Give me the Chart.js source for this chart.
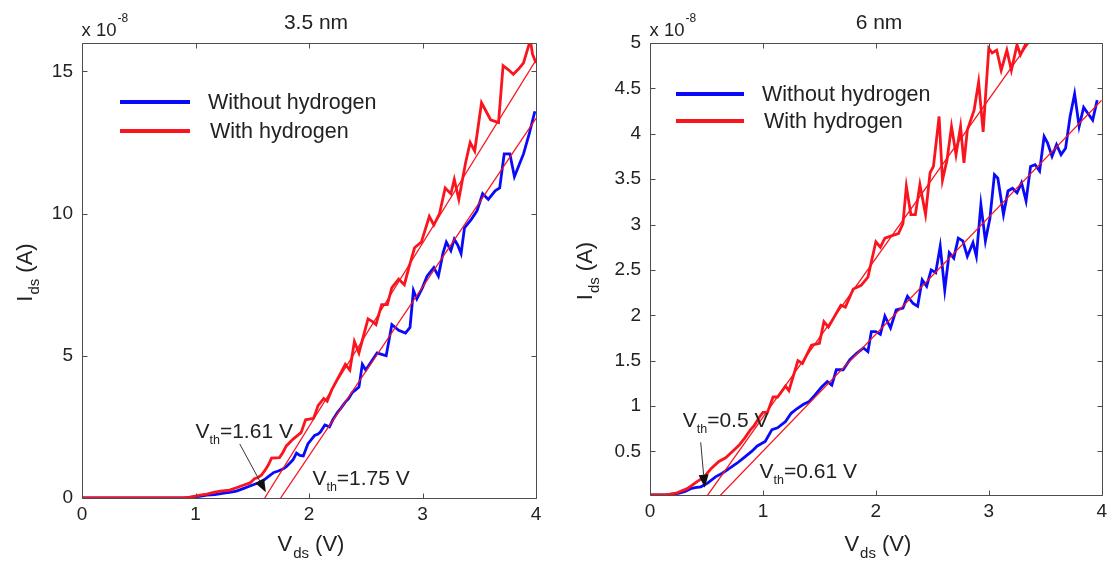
<!DOCTYPE html>
<html><head><meta charset="utf-8">
<script src="https://cdn.jsdelivr.net/npm/chart.js@4.4.0/dist/chart.umd.min.js"></script>
<style>
html,body{margin:0;padding:0;background:#fff;}
#wrap{position:relative;width:1112px;height:561px;overflow:hidden;background:#fff;}
canvas{position:absolute;top:0;}
</style></head><body>
<div id="wrap">
<canvas id="c1" width="560" height="561" style="left:0;width:560px;height:561px"></canvas>
<canvas id="c2" width="552" height="561" style="left:560px;width:552px;height:561px"></canvas>
</div>
<script>
// ---------- DATA (current in units of 1e-8 A, voltage in V) ----------
const xTicks = [0, 1, 2, 3, 4];
const leftYTicks = [0, 5, 10, 15];
const rightYTicks = [0.5, 1, 1.5, 2, 2.5, 3, 3.5, 4, 4.5, 5];
const seriesNames = ['Without hydrogen', 'With hydrogen'];
const panelTitles = ['3.5 nm', '6 nm'];

// 3.5 nm panel
const leftWithoutX = [0,0.5,0.9,0.95,1.0,1.05,1.1,1.17,1.25,1.3,1.36,1.42,1.48,1.55,1.6,1.65,1.69,1.73,1.77,1.8,1.83,1.86,1.89,1.92,1.95,1.99,2.02,2.05,2.08,2.1,2.14,2.18,2.21,2.25,2.28,2.32,2.35,2.38,2.41,2.44,2.47,2.5,2.55,2.6,2.64,2.68,2.73,2.79,2.85,2.89,2.92,2.95,3.0,3.04,3.1,3.14,3.18,3.21,3.25,3.28,3.31,3.34,3.37,3.43,3.48,3.53,3.58,3.64,3.68,3.72,3.77,3.81,3.85,3.89,3.94,3.99];
const leftWithoutY = [0,0,0,0.02,0.04,0.07,0.1,0.12,0.17,0.2,0.24,0.33,0.42,0.53,0.62,0.78,0.9,0.95,1.02,1.1,1.22,1.35,1.58,1.5,1.48,1.9,2.05,2.2,2.25,2.32,2.57,2.5,2.75,3.0,3.15,3.37,3.5,3.7,3.8,3.9,4.7,4.5,4.8,5.1,5.05,5.0,6.1,5.9,5.8,6.0,7.3,7.0,7.4,7.8,8.1,7.8,8.6,9.0,8.7,9.1,8.9,8.6,9.5,9.8,10.1,10.7,10.5,10.8,10.9,12.1,12.1,11.3,11.7,12.1,12.8,13.6];
const leftWithX = [0,0.5,0.9,0.95,1.0,1.04,1.1,1.16,1.22,1.3,1.36,1.42,1.48,1.52,1.55,1.58,1.61,1.64,1.67,1.74,1.77,1.8,1.86,1.93,1.97,2.04,2.08,2.13,2.16,2.2,2.24,2.28,2.32,2.36,2.4,2.44,2.48,2.52,2.56,2.59,2.64,2.69,2.73,2.79,2.84,2.88,2.93,2.99,3.06,3.1,3.15,3.2,3.25,3.28,3.32,3.38,3.42,3.46,3.52,3.56,3.6,3.67,3.71,3.76,3.8,3.85,3.89,3.95,3.97,4.0];
const leftWithY = [0,0,0,0.03,0.07,0.1,0.14,0.2,0.24,0.28,0.36,0.45,0.53,0.68,0.72,0.8,0.96,1.15,1.4,1.42,1.6,1.83,2.07,2.3,2.75,2.8,3.25,3.5,3.4,3.8,4.1,4.4,4.7,4.5,5.5,5.1,5.7,6.3,6.2,6.1,6.8,6.8,7.4,7.7,7.5,8.1,8.8,9.0,9.9,9.6,10.0,10.9,10.7,11.2,10.5,11.8,12.5,12.2,13.9,13.6,13.3,13.2,15.2,15.05,14.9,15.1,15.3,16.1,15.6,15.3];
const leftFitWithoutX = [1.75, 4];
const leftFitWithoutY = [0, 13.35];
const leftFitWithX = [1.61, 4];
const leftFitWithY = [0, 15.4];

// 6 nm panel
const rightWithoutX = [0,0.1,0.14,0.2,0.26,0.31,0.36,0.4,0.45,0.51,0.58,0.64,0.7,0.77,0.83,0.9,0.95,1.02,1.08,1.13,1.2,1.25,1.3,1.36,1.41,1.46,1.52,1.57,1.61,1.65,1.71,1.77,1.83,1.89,1.93,1.96,2.0,2.04,2.08,2.13,2.18,2.24,2.28,2.33,2.37,2.41,2.45,2.49,2.53,2.57,2.61,2.65,2.69,2.73,2.77,2.81,2.86,2.89,2.93,2.97,3.01,3.05,3.08,3.13,3.17,3.21,3.25,3.29,3.33,3.37,3.41,3.45,3.49,3.52,3.56,3.6,3.64,3.68,3.72,3.76,3.8,3.84,3.88,3.92,3.96];
const rightWithoutY = [0.02,0.02,0.02,0.03,0.04,0.06,0.09,0.1,0.11,0.15,0.22,0.26,0.31,0.37,0.43,0.5,0.56,0.61,0.74,0.76,0.83,0.92,0.97,1.02,1.05,1.12,1.21,1.27,1.23,1.4,1.4,1.51,1.58,1.64,1.6,1.82,1.82,1.79,1.99,1.86,2.06,2.08,2.21,2.13,2.1,2.39,2.32,2.5,2.47,2.76,2.28,2.69,2.63,2.85,2.82,2.65,2.8,2.65,3.22,2.82,3.07,3.55,3.51,3.11,3.37,3.4,3.35,3.46,3.26,3.64,3.66,3.59,3.97,3.9,3.75,3.88,3.77,3.84,4.19,4.44,4.08,4.29,4.22,4.15,4.37];
const rightWithX = [0,0.14,0.23,0.33,0.42,0.48,0.54,0.61,0.67,0.73,0.79,0.84,0.89,0.92,0.97,1.0,1.04,1.09,1.13,1.2,1.23,1.31,1.35,1.43,1.5,1.54,1.58,1.69,1.73,1.8,1.87,1.93,2.0,2.04,2.08,2.15,2.2,2.24,2.27,2.31,2.35,2.39,2.44,2.48,2.51,2.56,2.59,2.63,2.67,2.71,2.75,2.78,2.81,2.87,2.91,2.95,3.0,3.03,3.07,3.11,3.16,3.2,3.25,3.28,3.34,3.4];
const rightWithY = [0.02,0.02,0.04,0.09,0.17,0.22,0.31,0.39,0.43,0.5,0.57,0.65,0.74,0.78,0.88,0.93,0.93,1.1,1.1,1.22,1.17,1.5,1.47,1.67,1.69,1.93,1.87,2.11,2.09,2.29,2.33,2.42,2.81,2.75,2.85,2.88,2.9,3.01,3.42,3.11,3.11,3.44,3.11,3.57,3.64,4.19,3.49,3.71,4.08,3.77,4.08,3.68,4.04,4.26,4.57,4.02,4.94,4.89,4.92,4.7,4.92,4.7,4.98,4.87,5.02,5.2];
const rightFitWithoutX = [0.61, 4];
const rightFitWithoutY = [0, 4.37];
const rightFitWithX = [0.5, 3.4];
const rightFitWithY = [0, 5.08];

const thresholdLabels = [['1.61 V', '1.75 V'], ['0.5 V', '0.61 V']];

// ---------- RENDERING ----------
const FAM = '"Liberation Sans", Arial, Helvetica, sans-serif';
const BLUE = 'rgb(10,10,250)';
const RED = 'rgb(250,20,30)';
const TXT = '#222';

function pts(xs, ys) { return xs.map((x, i) => ({ x: x, y: ys[i] })); }

function drawRuns(ctx, parts, x, y, align) {
  let w = 0;
  parts.forEach(p => { ctx.font = p[1] + 'px ' + FAM; w += ctx.measureText(p[0]).width + (p[3] || 0); });
  let cx = align === 'center' ? x - w / 2 : (align === 'right' ? x - w : x);
  parts.forEach(p => {
    ctx.font = p[1] + 'px ' + FAM;
    ctx.fillText(p[0], cx, y + (p[2] || 0));
    cx += ctx.measureText(p[0]).width + (p[3] || 0);
  });
  return w;
}

function overlay(o) {
  return {
    id: 'overlay',
    afterDraw(chart) {
      const ctx = chart.ctx, a = chart.chartArea, xs = chart.scales.x, ys = chart.scales.y;
      ctx.save();
      ctx.strokeStyle = '#4d4d4d';
      ctx.lineWidth = 1;
      const L = Math.round(a.left) + 0.5, R = Math.round(a.right) + 0.5, T = Math.round(a.top) + 0.5, B = Math.round(a.bottom) + 0.5;
      ctx.beginPath();
      ctx.rect(L, T, R - L, B - T);
      xs.ticks.forEach(t => {
        const px = Math.round(xs.getPixelForValue(t.value)) + 0.5;
        ctx.moveTo(px, B); ctx.lineTo(px, B - 5);
        ctx.moveTo(px, T); ctx.lineTo(px, T + 5);
      });
      ys.ticks.forEach(t => {
        const py = Math.round(ys.getPixelForValue(t.value)) + 0.5;
        ctx.moveTo(L, py); ctx.lineTo(L + 5, py);
        ctx.moveTo(R, py); ctx.lineTo(R - 5, py);
      });
      ctx.stroke();

      ctx.fillStyle = TXT;
      ctx.textBaseline = 'alphabetic';
      // title
      drawRuns(ctx, [[o.title, 21]], o.titleX, 29, 'center');
      // exponent
      const w1 = drawRuns(ctx, [['x 10', 18.5]], L - 1, 36, 'left');
      drawRuns(ctx, [['-8', 12]], L - 1 + w1 + 1, 22, 'left');
      // x axis title
      const cxm = (a.left + a.right) / 2;
      drawRuns(ctx, [['V', 22, 0, 1], ['ds', 15, 7, 6], ['(V)', 22, 0]], cxm + 2, 551, 'center');
      // y axis title
      ctx.save();
      ctx.translate(o.yTitleX, (a.top + a.bottom) / 2 + 2);
      ctx.rotate(-Math.PI / 2);
      drawRuns(ctx, [['I', 22, 0, 1], ['ds', 15, 7, 6], ['(A)', 22, 0]], 0, 0, 'center');
      ctx.restore();
      // legend
      const cols = [BLUE, RED];
      o.legend.forEach((lg, i) => {
        ctx.strokeStyle = cols[i];
        ctx.lineWidth = 4;
        ctx.beginPath();
        ctx.moveTo(lg.x0, lg.y); ctx.lineTo(lg.x1, lg.y);
        ctx.stroke();
        ctx.fillStyle = TXT;
        drawRuns(ctx, [[seriesNames[i], 21.5]], lg.tx, lg.y + 7, 'left');
      });
      // threshold annotations
      o.ann.forEach((an, i) => {
        const px = xs.getPixelForValue(an.x), py = ys.getPixelForValue(an.y);
        drawRuns(ctx, [['V', 21, 0, 0], ['th', 12.5, 6, 0], ['=' + o.vth[i], 21, 0]], px, py, 'left');
      });
      // arrow
      const ax0 = xs.getPixelForValue(o.arrow.x0), ay0 = ys.getPixelForValue(o.arrow.y0);
      const ax1 = xs.getPixelForValue(o.arrow.x1), ay1 = ys.getPixelForValue(o.arrow.y1);
      const ang = Math.atan2(ay1 - ay0, ax1 - ax0);
      const hl = 13, hw = 5;
      const bx = ax1 - hl * Math.cos(ang), by = ay1 - hl * Math.sin(ang);
      ctx.strokeStyle = '#333';
      ctx.lineWidth = 1;
      ctx.beginPath(); ctx.moveTo(ax0, ay0); ctx.lineTo(bx, by); ctx.stroke();
      ctx.fillStyle = '#111';
      ctx.beginPath();
      ctx.moveTo(ax1, ay1);
      ctx.lineTo(bx + hw * Math.sin(ang), by - hw * Math.cos(ang));
      ctx.lineTo(bx - hw * Math.sin(ang), by + hw * Math.cos(ang));
      ctx.closePath(); ctx.fill();
      ctx.restore();
    }
  };
}

function build(id, o) {
  const tickFont = { family: FAM, size: 19 };
  return new Chart(document.getElementById(id), {
    type: 'scatter',
    data: {
      datasets: [
        { label: 'fit with', data: pts(o.fitWithX, o.fitWithY), showLine: true, borderColor: RED, borderWidth: 1.3, pointRadius: 0, order: 0 },
        { label: 'fit without', data: pts(o.fitWithoutX, o.fitWithoutY), showLine: true, borderColor: RED, borderWidth: 1.3, pointRadius: 0, order: 0 },
        { label: seriesNames[1], data: pts(o.withX, o.withY), showLine: true, borderColor: RED, borderWidth: 2.8, pointRadius: 0, order: 1 },
        { label: seriesNames[0], data: pts(o.withoutX, o.withoutY), showLine: true, borderColor: BLUE, borderWidth: 2.8, pointRadius: 0, order: 2 }
      ]
    },
    options: {
      responsive: false, animation: false, devicePixelRatio: 1,
      layout: { padding: { top: o.padTop, right: o.padRight, left: 0, bottom: 0 } },
      plugins: { legend: { display: false }, tooltip: { enabled: false } },
      scales: {
        x: {
          type: 'linear', min: 0, max: 4,
          afterBuildTicks: s => { s.ticks = xTicks.map(v => ({ value: v })); },
          afterFit: s => { s.height = o.xH; },
          grid: { display: false, drawTicks: false }, border: { display: false },
          ticks: { padding: 5, color: TXT, font: tickFont, maxRotation: 0, autoSkip: false, callback: v => String(v) }
        },
        y: {
          type: 'linear', min: o.yMin, max: o.yMax,
          afterBuildTicks: s => { s.ticks = o.yTicks.map(v => ({ value: v })); },
          afterFit: s => { s.width = o.yW; },
          grid: { display: false, drawTicks: false }, border: { display: false },
          ticks: { padding: 9, color: TXT, font: tickFont, autoSkip: false, callback: v => String(v) }
        }
      }
    },
    plugins: [overlay(o)]
  });
}

build('c1', {
  withoutX: leftWithoutX, withoutY: leftWithoutY, withX: leftWithX, withY: leftWithY,
  fitWithX: leftFitWithX, fitWithY: leftFitWithY, fitWithoutX: leftFitWithoutX, fitWithoutY: leftFitWithoutY,
  yMin: 0, yMax: 16, yTicks: leftYTicks,
  padTop: 43, padRight: 24, xH: 63, yW: 82,
  title: panelTitles[0], titleX: 316, yTitleX: 32,
  legend: [{ x0: 120, x1: 190, y: 102, tx: 208 }, { x0: 120, x1: 190, y: 131, tx: 210 }],
  vth: thresholdLabels[0],
  ann: [{ x: 1.0, y: 2.1 }, { x: 2.03, y: 0.45 }],
  arrow: { x0: 1.39, y0: 1.9, x1: 1.62, y1: 0.2 }
});
build('c2', {
  withoutX: rightWithoutX, withoutY: rightWithoutY, withX: rightWithX, withY: rightWithY,
  fitWithX: rightFitWithX, fitWithY: rightFitWithY, fitWithoutX: rightFitWithoutX, fitWithoutY: rightFitWithoutY,
  yMin: 0.02, yMax: 5, yTicks: rightYTicks,
  padTop: 43, padRight: 8, xH: 66, yW: 90,
  title: panelTitles[1], titleX: 319, yTitleX: 32,
  legend: [{ x0: 116, x1: 184, y: 94, tx: 202 }, { x0: 116, x1: 184, y: 121, tx: 204 }],
  vth: thresholdLabels[1],
  ann: [{ x: 0.29, y: 0.77 }, { x: 0.97, y: 0.207 }],
  arrow: { x0: 0.449, y0: 0.6, x1: 0.485, y1: 0.1 }
});
</script>
</body></html>
